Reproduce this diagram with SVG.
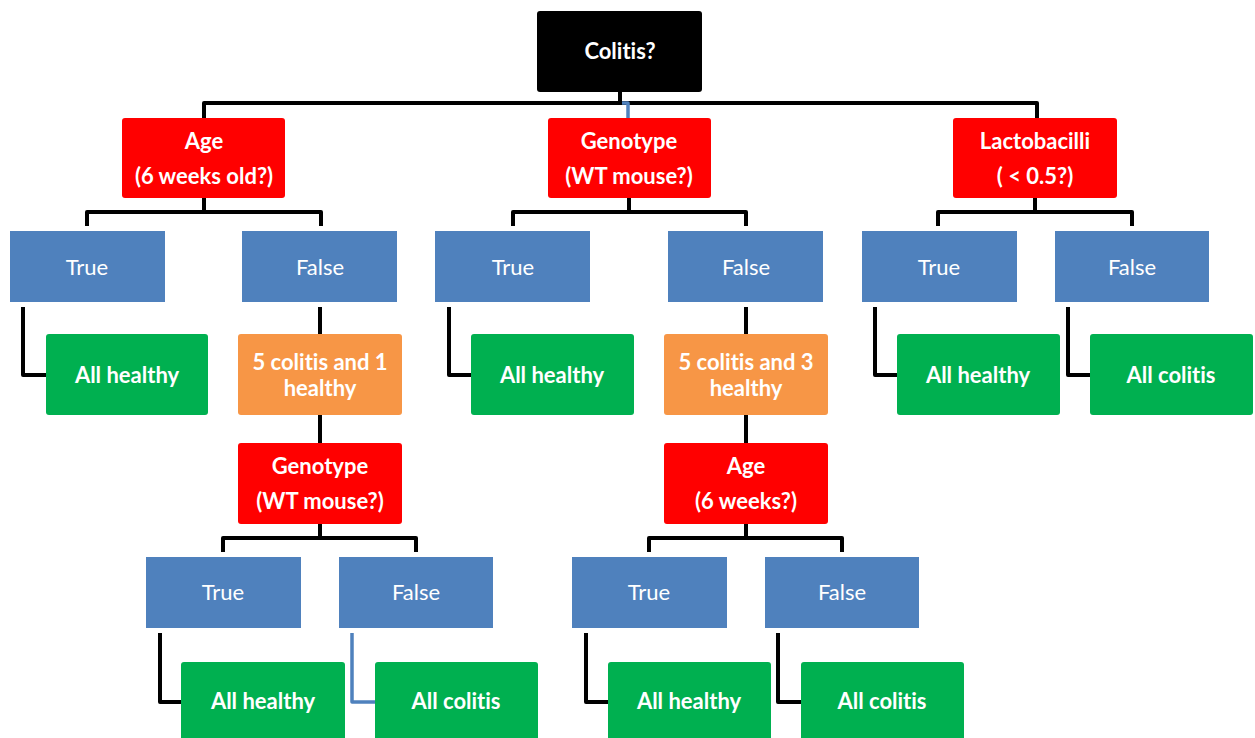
<svg xmlns="http://www.w3.org/2000/svg" width="1255" height="738" viewBox="0 0 1255 738">
<style>
.q{fill:#FF0000}
.b{fill:#4F81BD}
.g{fill:#00B050}
.o{fill:#F79646}
.k{fill:#000000}
text{font-family:Lato,"Open Sans","Liberation Sans",sans-serif;fill:#FFFFFF;text-anchor:middle;dominant-baseline:central;font-size:22px;font-variant-ligatures:none}
.bt{font-weight:bold}
.c{fill:none;stroke:#000;stroke-width:4;stroke-linejoin:round;stroke-linecap:butt}
.cb{fill:none;stroke:#4F81BD;stroke-width:3.5;stroke-linejoin:round}
</style>
<rect width="1255" height="738" fill="#FFFFFF"/>
<g id="connectors">
<path class="c" d="M620,92 V103"/>
<path class="c" d="M204,118 V103 H1037 V118"/>
<path class="cb" d="M622,103 H628 V118"/>
<path class="c" d="M204,198 V212 M87,226 V212 H321 V226"/>
<path class="c" d="M629,198 V212 M513,226 V212 H746 V226"/>
<path class="c" d="M1035,198 V212 M938,226 V212 H1132 V226"/>
<path class="c" d="M23,307 V375 H46"/>
<path class="c" d="M320,307 V334 M320,415 V443"/>
<path class="c" d="M449,307 V375 H471"/>
<path class="c" d="M746,307 V334 M746,415 V443"/>
<path class="c" d="M875,307 V375 H897"/>
<path class="c" d="M1068,307 V375 H1090"/>
<path class="c" d="M320,524 V538 M223,552 V538 H416 V552"/>
<path class="c" d="M746,524 V538 M649,552 V538 H842 V552"/>
<path class="c" d="M160,633 V702 H181"/>
<path class="cb" d="M352,633 V702 H375"/>
<path class="c" d="M586,633 V702 H608"/>
<path class="c" d="M778,633 V702 H801"/>
</g>
<g id="root"><rect class="k" x="537" y="11" width="165" height="81" rx="3"/><text class="bt" x="620" y="50">Colitis?</text></g>
<g id="age1"><rect class="q" x="122" y="118" width="163" height="80" rx="3"/><text class="bt" x="204" y="140">Age</text><text class="bt" x="204" y="175">(6 weeks old?)</text></g>
<g id="geno1"><rect class="q" x="548" y="118" width="163" height="80" rx="3"/><text class="bt" x="629" y="140">Genotype</text><text class="bt" x="629" y="175">(WT mouse?)</text></g>
<g id="lacto"><rect class="q" x="953" y="118" width="164" height="80" rx="3"/><text class="bt" x="1035" y="140">Lactobacilli</text><text class="bt" x="1035" y="175">( &lt; 0.5?)</text></g>
<g id="t1"><rect class="b" x="10" y="231" width="155" height="71"/><text x="87" y="266">True</text></g>
<g id="f1"><rect class="b" x="242" y="231" width="155" height="71"/><text x="320" y="266">False</text></g>
<g id="t2"><rect class="b" x="435" y="231" width="155" height="71"/><text x="513" y="266">True</text></g>
<g id="f2"><rect class="b" x="668" y="231" width="155" height="71"/><text x="746" y="266">False</text></g>
<g id="t3"><rect class="b" x="862" y="231" width="155" height="71"/><text x="939" y="266">True</text></g>
<g id="f3"><rect class="b" x="1055" y="231" width="154" height="71"/><text x="1132" y="266">False</text></g>
<g id="h1"><rect class="g" x="46" y="334" width="162" height="81" rx="3"/><text class="bt" x="127" y="374">All healthy</text></g>
<g id="o1"><rect class="o" x="238" y="334" width="164" height="81" rx="3"/><text class="bt" x="320" y="361">5 colitis and 1</text><text class="bt" x="320" y="387">healthy</text></g>
<g id="h2"><rect class="g" x="471" y="334" width="163" height="81" rx="3"/><text class="bt" x="552" y="374">All healthy</text></g>
<g id="o2"><rect class="o" x="664" y="334" width="164" height="81" rx="3"/><text class="bt" x="746" y="361">5 colitis and 3</text><text class="bt" x="746" y="387">healthy</text></g>
<g id="h3"><rect class="g" x="897" y="334" width="163" height="81" rx="3"/><text class="bt" x="978" y="374">All healthy</text></g>
<g id="c3"><rect class="g" x="1090" y="334" width="163" height="81" rx="3"/><text class="bt" x="1171" y="374">All colitis</text></g>
<g id="geno2"><rect class="q" x="238" y="443" width="164" height="81" rx="3"/><text class="bt" x="320" y="465">Genotype</text><text class="bt" x="320" y="500">(WT mouse?)</text></g>
<g id="age2"><rect class="q" x="664" y="443" width="164" height="81" rx="3"/><text class="bt" x="746" y="465">Age</text><text class="bt" x="746" y="500">(6 weeks?)</text></g>
<g id="t4"><rect class="b" x="146" y="557" width="155" height="71"/><text x="223" y="591">True</text></g>
<g id="f4"><rect class="b" x="339" y="557" width="154" height="71"/><text x="416" y="591">False</text></g>
<g id="t5"><rect class="b" x="572" y="557" width="155" height="71"/><text x="649" y="591">True</text></g>
<g id="f5"><rect class="b" x="765" y="557" width="154" height="71"/><text x="842" y="591">False</text></g>
<g id="h4"><rect class="g" x="181" y="662" width="164" height="81" rx="3"/><text class="bt" x="263" y="700">All healthy</text></g>
<g id="c4"><rect class="g" x="375" y="662" width="163" height="81" rx="3"/><text class="bt" x="456" y="700">All colitis</text></g>
<g id="h5"><rect class="g" x="608" y="662" width="163" height="81" rx="3"/><text class="bt" x="689" y="700">All healthy</text></g>
<g id="c5"><rect class="g" x="801" y="662" width="163" height="81" rx="3"/><text class="bt" x="882" y="700">All colitis</text></g>
</svg>
